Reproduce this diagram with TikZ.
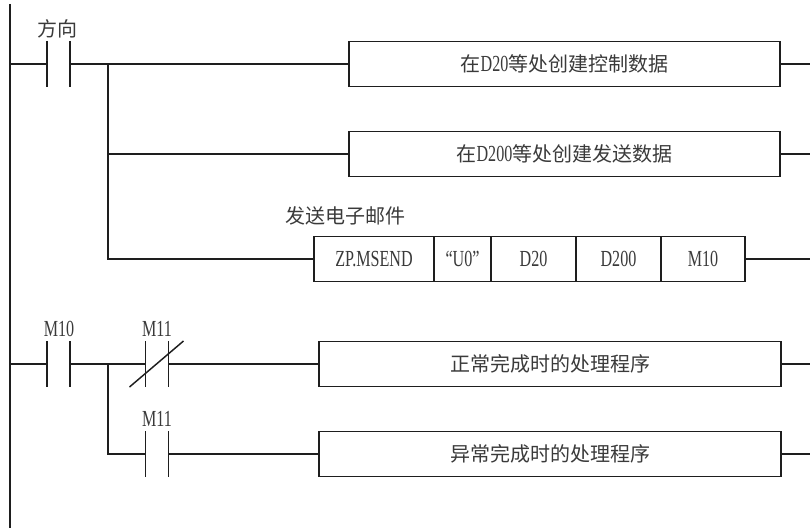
\documentclass[tikz,border=0pt]{standalone}
\usepackage{fontspec}
\setmainfont[FakeStretch=0.7, Scale=1.15]{Liberation Serif}
\newfontfamily\cjk{Noto Sans CJK SC}
\usepackage{tikz}
\usetikzlibrary{positioning}
\definecolor{wire}{HTML}{1E1E1E}
\definecolor{ink}{HTML}{3A3A3A}
\tikzset{
    rung/.style = {draw=wire, line width=1.1pt},
    cmdbox/.style = {rectangle, draw=wire, line width=0.9pt, fill=white, text=ink, align=center, font=\fontsize{15}{18}\selectfont, minimum height=33.75pt, inner sep=0pt, outer sep=0pt},
    contact/.style = {rectangle, minimum width=17.25pt, minimum height=34.5pt, inner sep=0pt, outer sep=0pt},
    tag/.style = {text=ink, font=\fontsize{15}{18}\selectfont, inner sep=0pt},
}
\begin{document}
\begin{tikzpicture}[x=0.75pt, y=-0.75pt]
\useasboundingbox (0,0) rectangle (810,528);
\coordinate (top) at (10,4);
\coordinate (bot) at (10,528);
\coordinate (right) at (810,0);
\coordinate (j1) at (108,64);
\coordinate (j2) at (108,364);
% contacts
\node[contact] at (58.5,64) (dir) {};
\node[contact] at (58.5,364) (mten) {};
\node[contact] at (157,364) (nc) {};
\node[contact] at (157,454) (no) {};
\node[tag] at (57,29) (dirl) {\cjk 方向};
\node[tag] at (59,329) (mtenl) {M10};
\node[tag] at (157,329) (ncl) {M11};
\node[tag] at (157,419) (nol) {M11};
% boxes
\node[cmdbox, minimum width=323.25pt] at (564.5,64) (ctl) {{\cjk 在}D20{\cjk 等处创建控制数据}};
\node[cmdbox, minimum width=323.25pt] at (564.5,154) (dat) {{\cjk 在}D200{\cjk 等处创建发送数据}};
\node[tag, anchor=west] at (285,216) (mail) {\cjk 发送电子邮件};
\node[cmdbox, minimum width=90pt] at (374,259) (ins) {ZP.MSEND};
\node[cmdbox, minimum width=42.75pt, right=0pt of ins] (chan) {“U0”};
\node[cmdbox, minimum width=63.75pt, right=0pt of chan] (ctrl) {D20};
\node[cmdbox, minimum width=63.75pt, right=0pt of ctrl] (send) {D200};
\node[cmdbox, minimum width=63pt, right=0pt of send] (done) {M10};
\node[cmdbox, minimum width=346.5pt] at (550,364) (ok) {\cjk 正常完成时的处理程序};
\node[cmdbox, minimum width=346.5pt] at (550,454) (err) {\cjk 异常完成时的处理程序};
%
\draw[rung] (top) -- (bot);
%
\draw[rung] (dir.north west) -- (dir.south west);
\draw[rung] (dir.north east) -- (dir.south east);
\draw[rung] (mten.north west) -- (mten.south west);
\draw[rung] (mten.north east) -- (mten.south east);
\draw[rung] (nc.north west) -- (nc.south west);
\draw[rung] (nc.north east) -- (nc.south east);
\draw[rung] ([xshift=-12pt]nc.south west) -- ([xshift=11.25pt]nc.north east);
\draw[rung] (no.north west) -- (no.south west);
\draw[rung] (no.north east) -- (no.south east);
%
\draw[rung] (dir.west -| top) -- (dir.west);
\draw[rung] (dir.east) -- (ctl.west);
\draw[rung] (j1) |- (dat.west);
\draw[rung] (j1) |- (ins.west);
\draw[rung] (ctl.east) -- (ctl.east -| right);
\draw[rung] (dat.east) -- (dat.east -| right);
\draw[rung] (done.east) -- (done.east -| right);
%
\draw[rung] (mten.west -| top) -- (mten.west);
\draw[rung] (mten.east) -- (nc.west);
\draw[rung] (nc.east) -- (ok.west);
\draw[rung] (j2) |- (no.west);
\draw[rung] (no.east) -- (err.west);
\draw[rung] (ok.east) -- (ok.east -| right);
\draw[rung] (err.east) -- (err.east -| right);
\end{tikzpicture}
\end{document}
